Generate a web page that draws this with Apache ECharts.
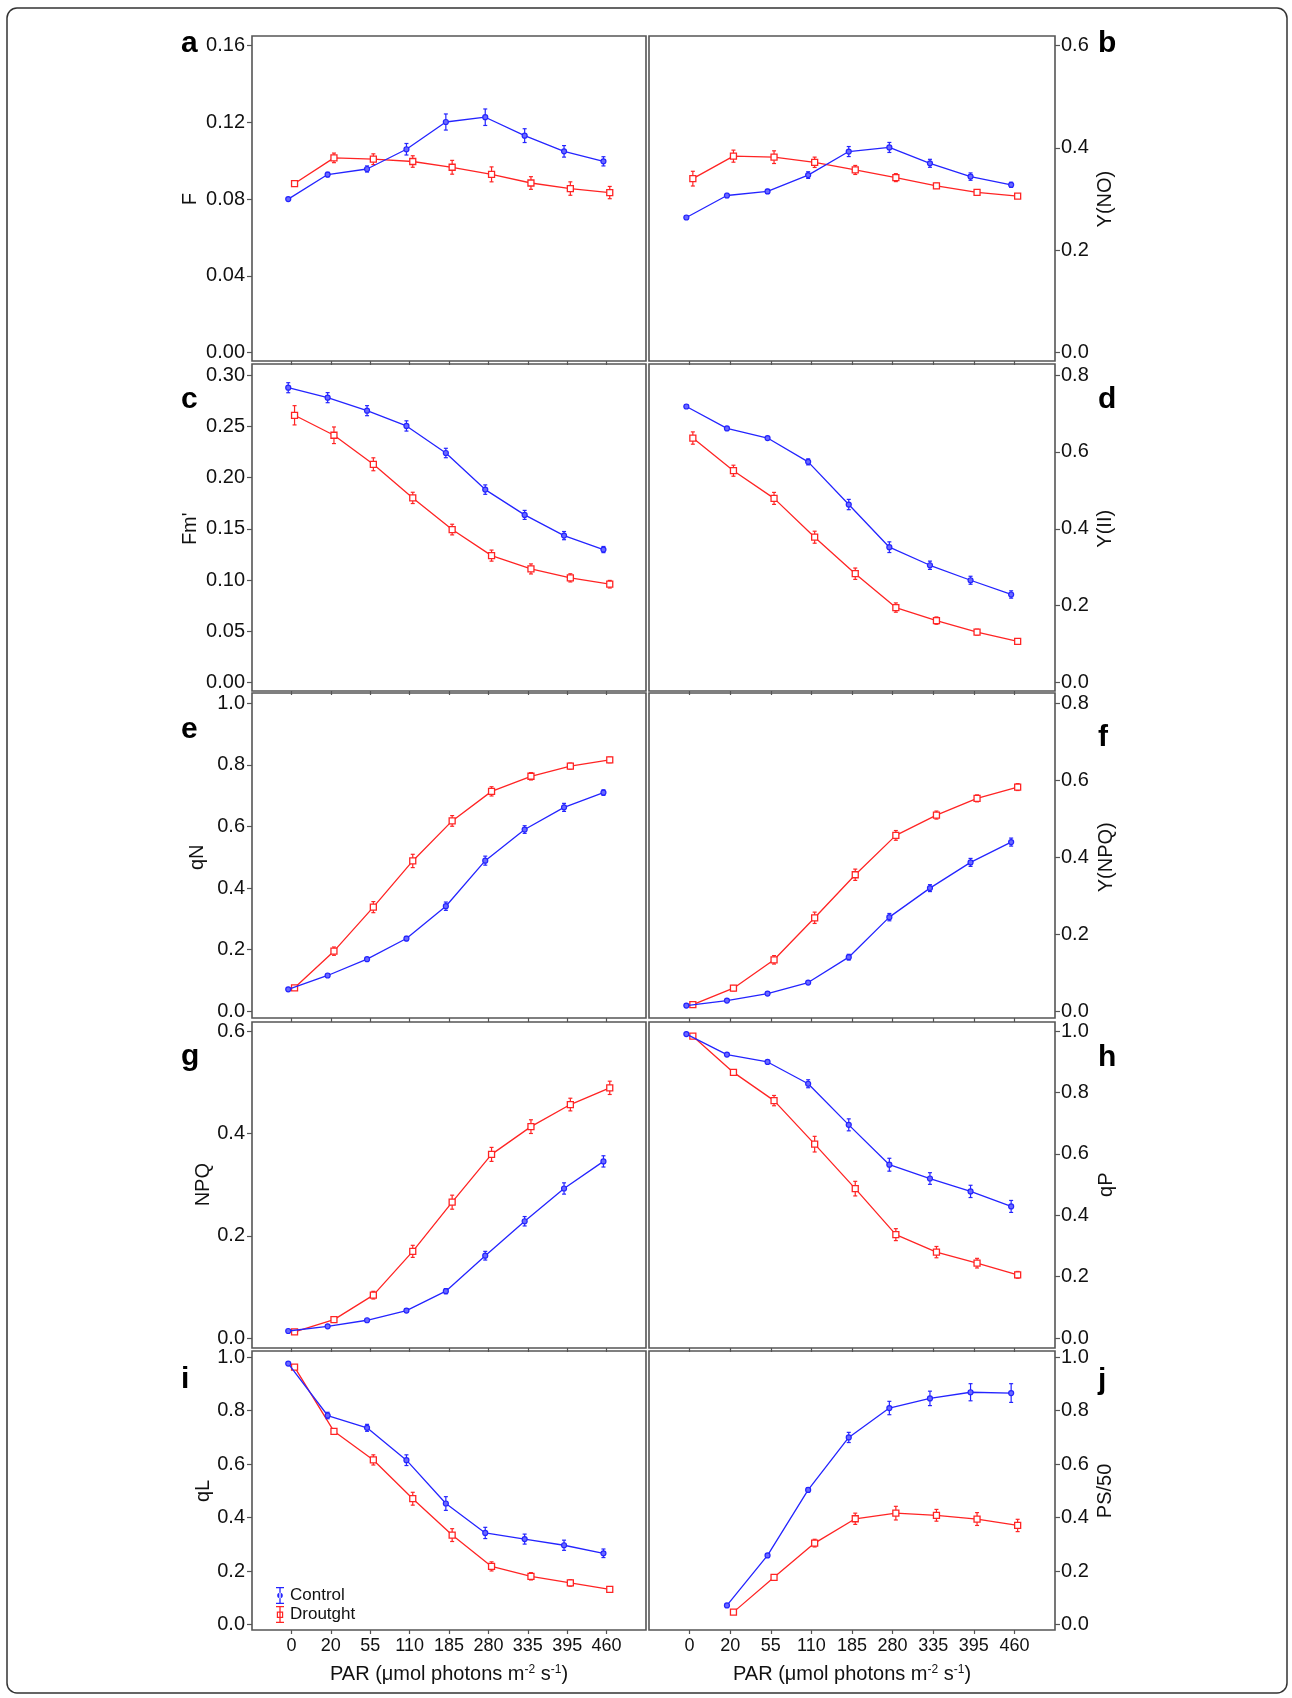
<!DOCTYPE html>
<html>
<head>
<meta charset="utf-8">
<script src="https://cdn.jsdelivr.net/npm/echarts@6/dist/echarts.min.js"></script>
<style>
  html, body { margin: 0; padding: 0; background: #fff; }
  #chart { width: 1292px; height: 1698px; }
</style>
</head>
<body>
<div id="chart"></div>
<script>
// ---------------- DATA ----------------
const PAR = ['0', '20', '55', '110', '185', '280', '335', '395', '460'];

// a: F
const F_ctrl     = [0.0800, 0.0928, 0.0957, 0.1060, 0.1202, 0.1227, 0.1131, 0.1049, 0.0997];
const F_ctrl_se  = [0.0007, 0.0012, 0.0016, 0.0030, 0.0042, 0.0043, 0.0036, 0.0030, 0.0024];
const F_drt      = [0.0881, 0.1015, 0.1008, 0.0996, 0.0966, 0.0929, 0.0884, 0.0855, 0.0834];
const F_drt_se   = [0.0010, 0.0025, 0.0028, 0.0030, 0.0036, 0.0039, 0.0033, 0.0035, 0.0032];
// b: Y(NO)
const YNO_ctrl    = [0.264, 0.307, 0.315, 0.347, 0.393, 0.401, 0.370, 0.344, 0.328];
const YNO_ctrl_se = [0.003, 0.004, 0.004, 0.0065, 0.0098, 0.0098, 0.0078, 0.0072, 0.005];
const YNO_drt     = [0.340, 0.384, 0.382, 0.372, 0.357, 0.342, 0.326, 0.313, 0.306];
const YNO_drt_se  = [0.0144, 0.0118, 0.0124, 0.0101, 0.0088, 0.0078, 0.0052, 0.004, 0.004];
// c: Fm'
const Fm_ctrl    = [0.2876, 0.2779, 0.2652, 0.2503, 0.2239, 0.1882, 0.1635, 0.1433, 0.1297];
const Fm_ctrl_se = [0.0049, 0.0049, 0.0049, 0.0050, 0.0046, 0.0046, 0.0044, 0.0040, 0.0030];
const Fm_drt     = [0.2607, 0.2412, 0.2129, 0.1801, 0.1492, 0.1238, 0.1108, 0.1021, 0.0959];
const Fm_drt_se  = [0.0094, 0.0081, 0.0063, 0.0055, 0.0052, 0.0054, 0.0049, 0.0040, 0.0037];
// d: Y(II)
const YII_ctrl    = [0.718, 0.661, 0.636, 0.574, 0.463, 0.352, 0.305, 0.266, 0.229];
const YII_ctrl_se = [0.004, 0.004, 0.004, 0.0078, 0.0134, 0.0139, 0.0108, 0.0104, 0.0095];
const YII_drt     = [0.636, 0.551, 0.479, 0.378, 0.283, 0.195, 0.161, 0.131, 0.107];
const YII_drt_se  = [0.016, 0.0143, 0.0156, 0.0156, 0.0148, 0.0121, 0.0095, 0.0078, 0.0065];
// e: qN
const qN_ctrl    = [0.071, 0.116, 0.169, 0.236, 0.341, 0.489, 0.590, 0.662, 0.710];
const qN_ctrl_se = [0.004, 0.004, 0.005, 0.007, 0.0135, 0.0146, 0.0124, 0.013, 0.009];
const qN_drt     = [0.076, 0.195, 0.338, 0.488, 0.618, 0.714, 0.763, 0.796, 0.816];
const qN_drt_se  = [0.005, 0.0135, 0.018, 0.0216, 0.0173, 0.015, 0.012, 0.010, 0.009];
// f: Y(NPQ)
const YNPQ_ctrl    = [0.0147, 0.0277, 0.0459, 0.0745, 0.1404, 0.2444, 0.3198, 0.3866, 0.4394];
const YNPQ_ctrl_se = [0.003, 0.003, 0.003, 0.004, 0.0074, 0.0095, 0.009, 0.0104, 0.0104];
const YNPQ_drt     = [0.0173, 0.0598, 0.1335, 0.2427, 0.3545, 0.4568, 0.5096, 0.5530, 0.5824];
const YNPQ_drt_se  = [0.003, 0.007, 0.011, 0.0147, 0.0147, 0.0126, 0.0104, 0.009, 0.009];
// g: NPQ
const NPQ_ctrl    = [0.0137, 0.0229, 0.0347, 0.0537, 0.0916, 0.1610, 0.2284, 0.2925, 0.3455];
const NPQ_ctrl_se = [0.002, 0.002, 0.002, 0.003, 0.005, 0.0085, 0.0092, 0.011, 0.011];
const NPQ_drt     = [0.0118, 0.0360, 0.0838, 0.1695, 0.2657, 0.3592, 0.4135, 0.4567, 0.4894];
const NPQ_drt_se  = [0.002, 0.004, 0.0075, 0.0118, 0.0137, 0.0137, 0.0134, 0.0124, 0.013];
// h: qP
const qP_ctrl    = [0.991, 0.924, 0.900, 0.829, 0.695, 0.565, 0.520, 0.478, 0.429];
const qP_ctrl_se = [0.004, 0.005, 0.005, 0.013, 0.0195, 0.021, 0.019, 0.020, 0.0195];
const qP_drt     = [0.984, 0.866, 0.774, 0.632, 0.487, 0.337, 0.280, 0.244, 0.206];
const qP_drt_se  = [0.004, 0.007, 0.0168, 0.0255, 0.0238, 0.0195, 0.0184, 0.0157, 0.011];
// i: qL
const qL_ctrl    = [0.976, 0.782, 0.736, 0.615, 0.453, 0.343, 0.320, 0.297, 0.267];
const qL_ctrl_se = [0.004, 0.012, 0.013, 0.020, 0.0256, 0.021, 0.0187, 0.019, 0.016];
const qL_drt     = [0.963, 0.723, 0.616, 0.471, 0.335, 0.218, 0.181, 0.156, 0.132];
const qL_drt_se  = [0.005, 0.008, 0.019, 0.024, 0.024, 0.017, 0.0137, 0.012, 0.008];
// j: PS/50 (no value at PAR 0)
const PS_ctrl    = [null, 0.072, 0.259, 0.504, 0.700, 0.810, 0.846, 0.869, 0.866];
const PS_ctrl_se = [null, 0.006, 0.006, 0.008, 0.019, 0.025, 0.027, 0.032, 0.035];
const PS_drt     = [null, 0.047, 0.177, 0.305, 0.396, 0.417, 0.409, 0.395, 0.371];
const PS_drt_se  = [null, 0.005, 0.007, 0.0143, 0.021, 0.0255, 0.022, 0.024, 0.023];

// ---------------- LAYOUT / STYLE ----------------
const FONT = '"Liberation Sans", Arial, Helvetica, sans-serif';
const BLUE = '#2424ff';
const RED = '#ff2424';
const FRAME = '#555';
const TXT = '#111';
const OFF_C = -0.08, OFF_D = 0.08;

const COLS = { L: { x: 252, w: 394 }, R: { x: 649, w: 406 } };
const ROWS = [
  { ft: 36,   fb: 361,  dt: 45.7,   db: 352.5 },
  { ft: 364,  fb: 691,  dt: 375,    db: 682.5 },
  { ft: 693,  fb: 1018, dt: 703.3,  db: 1011.2 },
  { ft: 1022, fb: 1348, dt: 1031.3, db: 1338 },
  { ft: 1351, fb: 1630, dt: 1357.2, db: 1624.7 }
];

const panels = [
  { letter: 'a', col: 'L', row: 0, name: 'F',      max: 0.16, step: 0.04, dec: 2, gap: 52, ly: 46,
    c: F_ctrl, cs: F_ctrl_se, d: F_drt, ds: F_drt_se },
  { letter: 'b', col: 'R', row: 0, name: 'Y(NO)',  max: 0.6, step: 0.2, dec: 1, gap: 40, ly: 46,
    c: YNO_ctrl, cs: YNO_ctrl_se, d: YNO_drt, ds: YNO_drt_se },
  { letter: 'c', col: 'L', row: 1, name: "Fm'",    max: 0.30, step: 0.05, dec: 2, gap: 52, ly: 402,
    c: Fm_ctrl, cs: Fm_ctrl_se, d: Fm_drt, ds: Fm_drt_se },
  { letter: 'd', col: 'R', row: 1, name: 'Y(II)',  max: 0.8, step: 0.2, dec: 1, gap: 40.5, ly: 402,
    c: YII_ctrl, cs: YII_ctrl_se, d: YII_drt, ds: YII_drt_se },
  { letter: 'e', col: 'L', row: 2, name: 'qN',     max: 1.0, step: 0.2, dec: 1, gap: 45, ly: 732,
    c: qN_ctrl, cs: qN_ctrl_se, d: qN_drt, ds: qN_drt_se },
  { letter: 'f', col: 'R', row: 2, name: 'Y(NPQ)', max: 0.8, step: 0.2, dec: 1, gap: 41, ly: 740,
    c: YNPQ_ctrl, cs: YNPQ_ctrl_se, d: YNPQ_drt, ds: YNPQ_drt_se },
  { letter: 'g', col: 'L', row: 3, name: 'NPQ',    max: 0.6, step: 0.2, dec: 1, gap: 39, ly: 1059,
    c: NPQ_ctrl, cs: NPQ_ctrl_se, d: NPQ_drt, ds: NPQ_drt_se },
  { letter: 'h', col: 'R', row: 3, name: 'qP',     max: 1.0, step: 0.2, dec: 1, gap: 41.5, ly: 1060,
    c: qP_ctrl, cs: qP_ctrl_se, d: qP_drt, ds: qP_drt_se },
  { letter: 'i', col: 'L', row: 4, name: 'qL',     max: 1.0, step: 0.2, dec: 1, gap: 38.5, ly: 1382,
    c: qL_ctrl, cs: qL_ctrl_se, d: qL_drt, ds: qL_drt_se },
  { letter: 'j', col: 'R', row: 4, name: 'PS/50',  max: 1.0, step: 0.2, dec: 1, gap: 40, ly: 1383,
    c: PS_ctrl, cs: PS_ctrl_se, d: PS_drt, ds: PS_drt_se }
];

const TICKS = PAR.map((_, i) => i);

function errRender(color) {
  return function (params, api) {
    const x = api.value(0), lo = api.value(1), hi = api.value(2);
    const p1 = api.coord([x, lo]);
    const p2 = api.coord([x, hi]);
    const w = 2;
    const st = { stroke: color, lineWidth: 1.2 };
    return {
      type: 'group',
      children: [
        { type: 'line', shape: { x1: p1[0], y1: p1[1], x2: p2[0], y2: p2[1] }, style: st },
        { type: 'line', shape: { x1: p1[0] - w, y1: p1[1], x2: p1[0] + w, y2: p1[1] }, style: st },
        { type: 'line', shape: { x1: p2[0] - w, y1: p2[1], x2: p2[0] + w, y2: p2[1] }, style: st }
      ]
    };
  };
}

const grid = [], xAxis = [], yAxis = [], series = [], graphic = [];

graphic.push({
  type: 'rect', z: 0,
  shape: { x: 7, y: 8, width: 1280, height: 1685, r: 10 },
  style: { fill: 'none', stroke: '#333', lineWidth: 1.5 }
});

panels.forEach((p, i) => {
  const col = COLS[p.col], row = ROWS[p.row];
  const isLeft = p.col === 'L';
  const isBottom = p.row === 4;
  grid.push({ left: col.x, top: row.dt, width: col.w, height: row.db - row.dt, containLabel: false });

  xAxis.push({
    type: 'value', gridIndex: i, min: -1, max: 9, interval: 1,
    position: 'bottom',
    offset: row.fb - row.db,
    axisLine: { show: false, onZero: false },
    splitLine: { show: false },
    axisTick: { show: true, length: 4, customValues: TICKS, lineStyle: { color: FRAME, width: 1.2 } },
    axisLabel: {
      show: isBottom, customValues: TICKS, margin: 7,
      formatter: v => PAR[Math.round(v)] ?? '',
      fontSize: 18, color: TXT, fontFamily: FONT
    },
    name: isBottom ? 'PAR (μmol photons m{s|-2} s{s|-1})' : '',
    nameLocation: 'middle', nameGap: 34,
    nameTextStyle: {
      fontSize: 20, color: TXT, fontFamily: FONT,
      rich: { s: { fontSize: 12, verticalAlign: 'top', fontFamily: FONT, color: TXT, padding: [0, 0, 8, 0] } }
    }
  });

  yAxis.push({
    type: 'value', gridIndex: i, min: 0, max: p.max, interval: p.step,
    position: isLeft ? 'left' : 'right',
    axisLine: { show: false, onZero: false },
    splitLine: { show: false },
    axisTick: { show: true, length: 5, lineStyle: { color: FRAME, width: 1.2 } },
    axisLabel: {
      margin: isLeft ? 7 : 6, fontSize: 20, color: TXT, fontFamily: FONT,
      formatter: v => v.toFixed(p.dec)
    },
    name: p.name, nameLocation: 'middle', nameRotate: 90, nameGap: p.gap,
    nameTextStyle: { fontSize: 20, color: TXT, fontFamily: FONT }
  });

  const cData = [], cErr = [], dData = [], dErr = [];
  p.c.forEach((v, k) => {
    if (v == null) return;
    cData.push([k + OFF_C, v]);
    cErr.push([k + OFF_C, v - p.cs[k], v + p.cs[k]]);
  });
  p.d.forEach((v, k) => {
    if (v == null) return;
    dData.push([k + OFF_D, v]);
    dErr.push([k + OFF_D, v - p.ds[k], v + p.ds[k]]);
  });

  series.push({
    type: 'custom', name: 'Droutght', xAxisIndex: i, yAxisIndex: i, z: 2, silent: true,
    renderItem: errRender(RED), data: dErr, encode: { x: 0, y: [1, 2] }, clip: false
  });
  series.push({
    type: 'line', name: 'Droutght', xAxisIndex: i, yAxisIndex: i, z: 3, data: dData,
    symbol: 'rect', symbolSize: 6, showSymbol: true,
    lineStyle: { color: RED, width: 1.3 },
    itemStyle: { color: '#fff', borderColor: RED, borderWidth: 1.3 }
  });
  series.push({
    type: 'custom', name: 'Control', xAxisIndex: i, yAxisIndex: i, z: 4, silent: true,
    renderItem: errRender(BLUE), data: cErr, encode: { x: 0, y: [1, 2] }, clip: false
  });
  series.push({
    type: 'line', name: 'Control', xAxisIndex: i, yAxisIndex: i, z: 5, data: cData,
    symbol: 'circle', symbolSize: 5, showSymbol: true,
    lineStyle: { color: BLUE, width: 1.3 },
    itemStyle: { color: '#6a6aff', borderColor: BLUE, borderWidth: 1.2 }
  });

  graphic.push({
    type: 'rect', z: 10, silent: true,
    shape: { x: col.x, y: row.ft, width: col.w, height: row.fb - row.ft },
    style: { fill: 'none', stroke: FRAME, lineWidth: 1.6 }
  });
  graphic.push({
    type: 'text', z: 10,
    left: isLeft ? 181 : 1098, top: p.ly - 17,
    style: { text: p.letter, font: 'bold 30px ' + FONT, fill: '#000' }
  });
});

const ICON_C = 'path://M1,0H9V1.3H1Z M4.35,0H5.65V17H4.35Z M1,15.7H9V17H1Z M2.2,8.5A2.8,2.8 0 1 0 7.8,8.5A2.8,2.8 0 1 0 2.2,8.5Z';
const ICON_D = 'path://M1,0H9V1.3H1Z M4.35,0H5.65V5.5H4.35Z M4.35,11.5H5.65V17H4.35Z M1,15.7H9V17H1Z M1.8,5.5H8.2V11.9H1.8Z M3.0,6.7V10.7H7.0V6.7Z M4.35,6.7H5.65V10.7H4.35Z';

const option = {
  animation: false,
  backgroundColor: '#fff',
  textStyle: { fontFamily: FONT },
  grid, xAxis, yAxis, series, graphic,
  legend: {
    orient: 'vertical', left: 271, top: 1582,
    itemWidth: 10, itemHeight: 17, itemGap: 2,
    textStyle: { fontSize: 17, color: TXT, fontFamily: FONT },
    selectedMode: false,
    data: [
      { name: 'Control', icon: ICON_C, itemStyle: { color: BLUE, borderWidth: 0 } },
      { name: 'Droutght', icon: ICON_D, itemStyle: { color: RED, borderWidth: 0 } }
    ]
  }
};

const chart = echarts.init(document.getElementById('chart'), null, { renderer: 'canvas' });
chart.setOption(option);
</script>
</body>
</html>
